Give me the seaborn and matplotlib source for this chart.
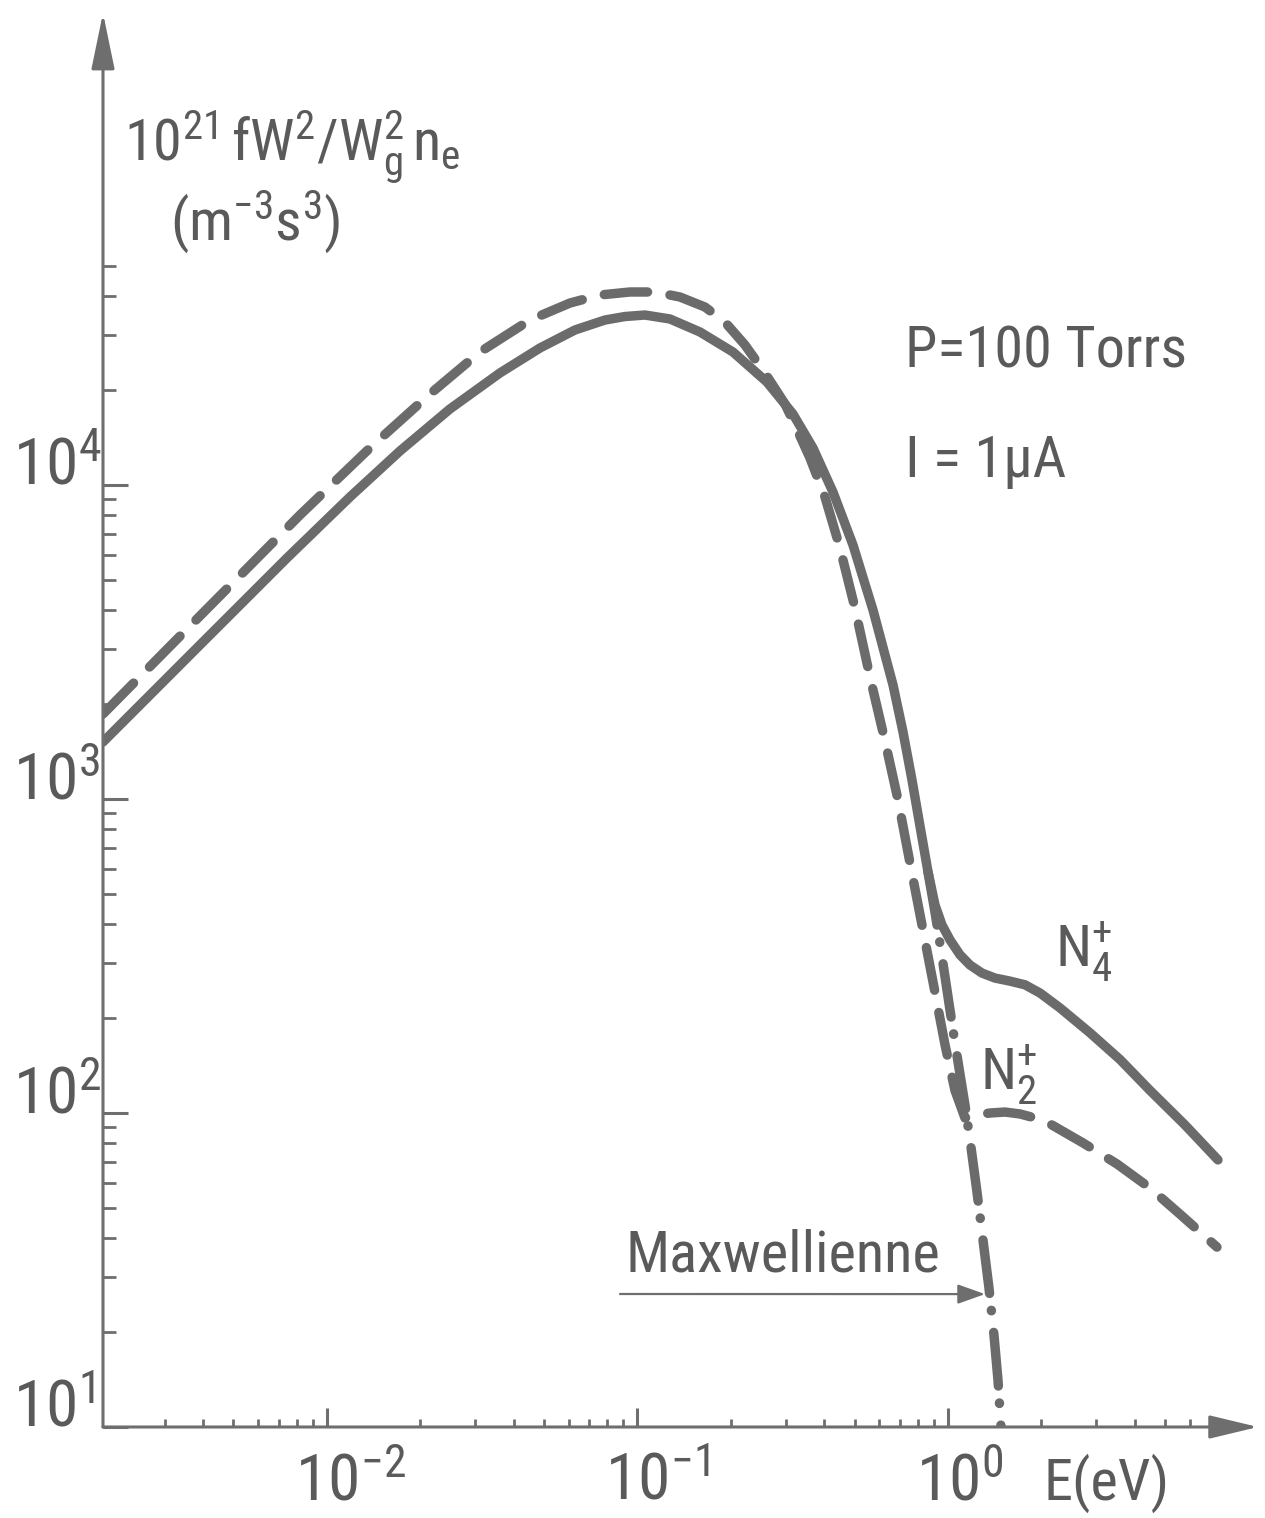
import os
import matplotlib
matplotlib.use("Agg")
import matplotlib.pyplot as plt
from matplotlib import font_manager
from matplotlib.font_manager import FontEntry
from matplotlib.ticker import FixedLocator, NullFormatter
import seaborn as sns

# ---- data: electron energy E (eV) and 10^21 f W^2 / Wg^2 ne (m^-3 s^3) ----
e_n4 = [1.90e-3, 3.899e-3, 7.434e-3, 0.011858, 0.01718, 0.024887, 0.036063,
        0.04853, 0.062927, 0.078584, 0.091155, 0.10572, 0.12727, 0.15898,
        0.20297, 0.26117, 0.31681, 0.36746, 0.42617, 0.49434, 0.57347,
        0.66524, 0.7165, 0.76571, 0.81254, 0.86232, 0.90804, 0.95649,
        1.01494, 1.09306, 1.17706, 1.2869, 1.41702, 1.58372, 1.7704,
        1.97903, 2.29567, 2.86686, 3.58126, 4.47246, 5.79749, 7.4043]
f_n4 = [1519, 3094, 5854, 9158, 12830, 17460, 22740,
        27310, 31170, 33530, 34400, 34780, 33780, 30710,
        26520, 21280, 16830, 13120, 9500, 6441, 3999,
        2307, 1634, 1150, 820, 586, 460, 397,
        356, 319, 296, 279, 269, 263, 256,
        241, 216, 180, 148, 118, 91.6, 70.9]

e_n2 = [1.90e-3, 3.899e-3, 8.185e-3, 0.013752, 0.021466, 0.031106, 0.045062,
        0.060636, 0.075723, 0.094598, 0.11385, 0.13706, 0.16498, 0.19128,
        0.2219, 0.25733, 0.29857, 0.32155, 0.35938, 0.40165, 0.44897,
        0.50171, 0.56085, 0.62694, 0.69042, 0.75444, 0.82468, 0.90133,
        0.978, 1.05323, 1.13434, 1.22168, 1.36544, 1.52602, 1.70594,
        1.907, 2.13151, 2.72196, 3.50244, 4.47246, 5.71205, 7.34948]
f_n2 = [1865, 3827, 8024, 13120, 19490, 26520, 33530,
        37980, 40280, 41180, 41180, 39690, 36880, 33040,
        27920, 22740, 18110, 15530, 12190, 9158, 6301,
        4058, 2447, 1530, 993, 626, 397, 252,
        165, 118, 96.4, 98.5, 100.0, 100.7, 99.3,
        96.4, 92.3, 80.3, 68.8, 57.7, 46.7, 37.4]

e_maxw = [0.86232, 0.90804, 0.94942, 0.99261, 1.03776, 1.085, 1.13434,
          1.18581, 1.24002, 1.29647, 1.35536, 1.40657, 1.44884, 1.48145]
f_maxw = [585.5, 436.5, 330.4, 246.6, 183.8, 139.1, 106.0,
          77.9, 56.0, 39.4, 27.7, 19.6, 14.1, 10.0]

y_major = [1e1, 1e2, 1e3, 1e4]
y_major_labels = [r"$10^{1}$", r"$10^{2}$", r"$10^{3}$", r"$10^{4}$"]
x_major = [1e-2, 1e-1, 1e0]
x_major_labels = [r"$10^{-2}$", r"$10^{-1}$", r"$10^{0}$"]
y_minor = [k * 10.0 ** d for d in (1, 2, 3) for k in range(2, 10)] + [2e4, 3e4, 4e4, 5e4]
x_minor = ([k * 1e-3 for k in range(3, 10)] + [k * 1e-2 for k in range(2, 10)]
           + [k * 1e-1 for k in range(2, 10)] + [2, 3, 4, 5, 6])

# ---- lettering font: prefer a narrow face ----
sns.set_theme(style="white")
by_base = {os.path.splitext(os.path.basename(f.fname))[0].lower(): f.fname
           for f in font_manager.fontManager.ttflist}
prefs = [("notosans-extracondensed", 46), ("liberationsansnarrow-regular", 42),
         ("robotocondensed-regular", 42), ("notosans-condensed", 40),
         ("opensans-condensed-regular", 40), ("dejavusanscondensed", 36)]
FONT, FS = "Roboto", 36
for base, size in prefs:
    if base in by_base:
        font_manager.fontManager.ttflist.append(
            FontEntry(fname=by_base[base], name="Lettering", style="normal",
                      variant="normal", weight=400, stretch="normal", size="scalable"))
        FONT, FS = "Lettering", size
        break
FS_TICK = FS * 1.12

plt.rcParams["font.family"] = [FONT, "DejaVu Sans"]
plt.rcParams["mathtext.fontset"] = "custom"
plt.rcParams["mathtext.rm"] = FONT
plt.rcParams["mathtext.it"] = FONT
plt.rcParams["mathtext.bf"] = FONT
plt.rcParams["mathtext.default"] = "rm"

LINE = "#6b6b6b"
AXC = "#6e6e6e"
TXT = "#5a5a5a"
LW = 6.8

W, H = 1265, 1518
fig = plt.figure(figsize=(W / 100, H / 100), dpi=100)
fig.patch.set_facecolor("white")
ax = fig.add_axes([103 / W, 1 - 1427 / H, (1258 - 103) / W, (1427 - 13) / H])
ax.set_facecolor("white")
ax.set_xscale("log")
ax.set_yscale("log")
ax.set_xlim(1.9e-3, 10 ** ((1258 - 948) / 310.5))
ax.set_ylim(10, 10 ** (4 + (485 - 13) / 314))

# ---- curves ----
sns.lineplot(x=e_n2, y=f_n2, ax=ax, color=LINE, linewidth=LW, sort=False, estimator=None)
ln = ax.lines[-1]
ln.set_dashes([4.6, 2.4])
ln.set_dash_capstyle("round")
ln.set_dash_joinstyle("round")

sns.lineplot(x=e_maxw, y=f_maxw, ax=ax, color=LINE, linewidth=LW, sort=False, estimator=None)
ln = ax.lines[-1]
ln.set_dashes([5.7, 1.8, 0.05, 2.3])
ln.set_dash_capstyle("round")
ln.set_dash_joinstyle("round")

sns.lineplot(x=e_n4, y=f_n4, ax=ax, color=LINE, linewidth=LW, sort=False, estimator=None)
ln = ax.lines[-1]
ln.set_solid_capstyle("round")
ln.set_solid_joinstyle("round")

# ---- axes drawn as arrows ----
for s in ax.spines.values():
    s.set_visible(False)
ax.annotate("", xy=(1, 0), xytext=(0, 0), xycoords="axes fraction",
            arrowprops=dict(arrowstyle="-|>,head_length=2.5,head_width=0.6",
                            lw=2.2, color=AXC, shrinkA=0, shrinkB=0),
            annotation_clip=False)
ax.annotate("", xy=(0, 1), xytext=(0, 0), xycoords="axes fraction",
            arrowprops=dict(arrowstyle="-|>,head_length=2.9,head_width=0.6",
                            lw=2.2, color=AXC, shrinkA=0, shrinkB=0),
            annotation_clip=False)

ax.xaxis.set_major_locator(FixedLocator(x_major))
ax.xaxis.set_minor_locator(FixedLocator(x_minor))
ax.yaxis.set_major_locator(FixedLocator(y_major))
ax.yaxis.set_minor_locator(FixedLocator(y_minor))
for axis in (ax.xaxis, ax.yaxis):
    axis.set_major_formatter(NullFormatter())
    axis.set_minor_formatter(NullFormatter())
ax.tick_params(axis="y", which="major", direction="in", length=18, width=2.2,
               color=AXC, left=True, right=False)
ax.tick_params(axis="y", which="minor", direction="in", length=9, width=2.0,
               color=AXC, left=True, right=False)
ax.tick_params(axis="x", which="major", direction="in", length=14, width=2.2,
               color=AXC, bottom=True, top=False)
ax.tick_params(axis="x", which="minor", direction="in", length=6, width=2.0,
               color=AXC, bottom=True, top=False)
ax.grid(False)

# width of the "10" mantissa, used to centre it on each x tick
renderer = fig.canvas.get_renderer()
probe = fig.text(0, 0, "10", fontsize=FS_TICK)
half_w_pt = probe.get_window_extent(renderer).width / 2 * 72 / fig.dpi
probe.remove()

for val, lbl in zip(y_major, y_major_labels):
    ax.annotate(lbl, xy=(13 / W, val), xycoords=("figure fraction", "data"),
                ha="left", va="baseline", fontsize=FS_TICK, color=TXT,
                annotation_clip=False)
for val, lbl in zip(x_major, x_major_labels):
    ax.annotate(lbl, xy=(val, 1 - 1500 / H), xycoords=("data", "figure fraction"),
                xytext=(-half_w_pt, 0), textcoords="offset points",
                ha="left", va="baseline", fontsize=FS_TICK, color=TXT,
                annotation_clip=False)


def fpos(x, y):
    return x / W, 1 - y / H


fig.text(*fpos(1043, 1500), "E(eV)", fontsize=FS, color=TXT, ha="left", va="baseline")

# axis title
fig.text(*fpos(124, 160), r"$10^{21}\,fW^{2}/W_{g}^{2}\,n_{e}$", fontsize=FS,
         color=TXT, ha="left", va="baseline")
fig.text(*fpos(170, 240), r"$(m^{-3}s^{3})$", fontsize=FS, color=TXT,
         ha="left", va="baseline")

# conditions
fig.text(*fpos(905, 367), "P=100 Torrs", fontsize=FS, color=TXT, ha="left", va="baseline")
fig.text(*fpos(905, 477), "I = 1\u03bcA", fontsize=FS, color=TXT, ha="left", va="baseline")

# curve labels
fig.text(*fpos(1055, 967), r"$N_{4}^{+}$", fontsize=FS, color=TXT, ha="left", va="baseline")
fig.text(*fpos(980, 1090), r"$N_{2}^{+}$", fontsize=FS, color=TXT, ha="left", va="baseline")
fig.text(*fpos(625, 1272), "Maxwellienne", fontsize=FS, color=TXT, ha="left", va="baseline")
ax.annotate("", xy=(1.316, 26.5), xycoords="data",
            xytext=fpos(620, 1294), textcoords="figure fraction",
            arrowprops=dict(arrowstyle="-|>,head_length=1.4,head_width=0.5",
                            lw=1.6, color=AXC, shrinkA=0, shrinkB=0),
            annotation_clip=False)

fig.savefig("out.png", dpi=100, facecolor="white")
